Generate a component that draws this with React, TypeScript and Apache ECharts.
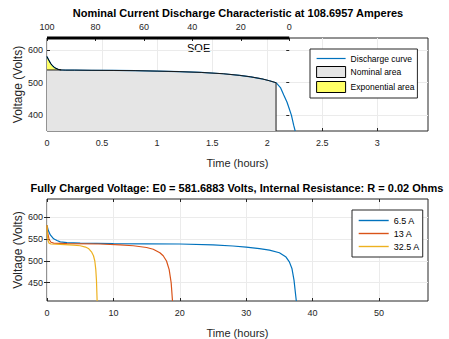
import React, { useEffect, useRef } from "react";
import * as echarts from "echarts";

// ---- Top chart: nominal current discharge characteristic ----
const TOP_TITLE = "Nominal Current Discharge Characteristic at 108.6957 Amperes";
const TOP_HOURS = [0, 0.01, 0.02, 0.035, 0.05, 0.07, 0.1, 0.13, 0.17, 0.25, 0.4, 0.6, 0.8, 1.0, 1.2, 1.4, 1.6, 1.75, 1.85, 1.95, 2.02, 2.08, 2.12, 2.15, 2.18, 2.2, 2.22, 2.24, 2.254];
const TOP_VOLTS = [580, 573, 567, 558, 552, 546, 541, 539, 538.5, 538.5, 538, 537.5, 537, 535.5, 534, 531.5, 527.5, 522.5, 518, 512, 506, 500, 485, 462, 440, 420, 400, 370, 352];
const EXP_END_HOURS = 0.13;
const NOM_END_HOURS = 2.08;
const SOE_FULL_HOURS = 2.2;
const TOP_X_TICKS = [0, 0.5, 1, 1.5, 2, 2.5, 3];
const TOP_Y_TICKS = [400, 500, 600];
const SOE_TICKS = [100, 80, 60, 40, 20, 0];
const TOP_X_MAX = 3.46;
const TOP_Y_MIN = 352;
const TOP_Y_MAX = 637;

// ---- Bottom chart: curves at several currents ----
const BOTTOM_TITLE = "Fully Charged Voltage: E0 = 581.6883 Volts, Internal Resistance: R = 0.02 Ohms";
const H_65 = [0, 0.2, 0.5, 1, 1.5, 2, 3, 5, 10, 15, 20, 25, 28, 30, 32, 33.5, 35, 36, 36.5, 36.9, 37.2, 37.4, 37.55];
const V_65 = [582, 570, 560, 551, 547, 544, 542, 541, 540, 539.5, 539, 537, 534.5, 532, 528.5, 525, 519, 509, 498, 482, 456, 428, 408];
const H_13 = [0, 0.1, 0.3, 0.6, 1, 3, 8, 11, 13, 15, 16, 17, 17.5, 18, 18.4, 18.7, 18.9];
const V_13 = [582, 565, 550, 543, 541, 540, 539, 537, 535, 531, 527, 519, 512, 500, 480, 450, 408];
const H_325 = [0, 0.05, 0.15, 0.3, 0.6, 2, 4, 5, 5.8, 6.3, 6.7, 7, 7.2, 7.35, 7.45, 7.55];
const V_325 = [582, 560, 547, 541, 539, 538, 536.5, 535, 532, 528, 521, 512, 500, 480, 455, 408];
const BOTTOM_NAMES = ["6.5 A", "13 A", "32.5 A"];
const BOTTOM_X_TICKS = [0, 10, 20, 30, 40, 50];
const BOTTOM_Y_TICKS = [450, 500, 550, 600];
const BOTTOM_X_MAX = 57.38;
const BOTTOM_Y_MIN = 408;
const BOTTOM_Y_MAX = 642.5;

const BLUE = "#0072BD";
const ORANGE = "#D95319";
const YELLOW = "#EDB120";
const FONT = "Liberation Sans, Arial, sans-serif";
const AXIS_COLOR = "#262626";
const GRID_LINE = "#ebebeb";

const pairs = (h: number[], v: number[]) => h.map((x, i) => [x, v[i]]);

export default function App() {
  const ref = useRef<HTMLDivElement>(null);
  useEffect(() => {
    if (!ref.current) return;
    const chart = echarts.init(ref.current, undefined, { renderer: "svg" });

    const curve = pairs(TOP_HOURS, TOP_VOLTS);
    const expIdx = TOP_HOURS.indexOf(EXP_END_HOURS);
    const expVolt = TOP_VOLTS[expIdx];
    const expArea = curve.filter((p) => p[0] <= EXP_END_HOURS);
    const nomArea = [[0, expVolt], ...curve.filter((p) => p[0] >= EXP_END_HOURS && p[0] <= NOM_END_HOURS), [NOM_END_HOURS, TOP_Y_MIN]];
    const soeAt = (h: number) => 100 * (1 - h / SOE_FULL_HOURS);

    const label = { color: AXIS_COLOR, fontSize: 9, fontFamily: FONT };
    const tick = (vals: number[]) => ({ show: true, inside: true, length: 3, customValues: vals, lineStyle: { color: AXIS_COLOR } });
    const split = { show: true, lineStyle: { color: GRID_LINE, width: 1 } };
    const ticksOnly = (extra: any, vals: number[]) => ({
      type: "value",
      ...extra,
      axisLine: { show: false },
      axisLabel: { show: false, customValues: vals },
      axisTick: tick(vals),
      splitLine: { show: false },
    });
    const lineLegendItem = (name: string) => ({ name, itemStyle: { opacity: 0 } });

    chart.setOption({
      animation: false,
      backgroundColor: "#fff",
      textStyle: { fontFamily: FONT },
      title: [
        { text: TOP_TITLE, left: 238, top: 7, textAlign: "center", padding: 0, textStyle: { fontSize: 11, fontWeight: "bold", color: "#000", fontFamily: FONT } },
        { text: BOTTOM_TITLE, left: 237, top: 182, textAlign: "center", padding: 0, textStyle: { fontSize: 11, fontWeight: "bold", color: "#000", fontFamily: FONT } },
      ],
      grid: [
        { left: 47, right: 21, top: 38, height: 93, show: true, borderColor: AXIS_COLOR, borderWidth: 1, backgroundColor: "#fff" },
        { left: 47, right: 21, top: 199, height: 102, show: true, borderColor: AXIS_COLOR, borderWidth: 1, backgroundColor: "#fff" },
      ],
      xAxis: [
        {
          type: "value", gridIndex: 0, min: 0, max: TOP_X_MAX, position: "bottom",
          axisLine: { show: false },
          axisTick: tick(TOP_X_TICKS),
          axisLabel: { ...label, margin: 7, customValues: TOP_X_TICKS },
          splitLine: split,
          name: "Time (hours)", nameLocation: "middle", nameGap: 26, nameMoveOverlap: false,
          nameTextStyle: { fontSize: 11, color: AXIS_COLOR, fontFamily: FONT },
        },
        {
          type: "value", gridIndex: 0, min: soeAt(TOP_X_MAX), max: 100, inverse: true, position: "top",
          axisLine: { show: false },
          axisTick: tick(SOE_TICKS),
          axisLabel: { ...label, margin: 7, customValues: SOE_TICKS },
          splitLine: { show: false },
        },
        {
          type: "value", gridIndex: 1, min: 0, max: BOTTOM_X_MAX, position: "bottom",
          axisLine: { show: false },
          axisTick: tick(BOTTOM_X_TICKS),
          axisLabel: { ...label, margin: 7, customValues: BOTTOM_X_TICKS },
          splitLine: split,
          name: "Time (hours)", nameLocation: "middle", nameGap: 26, nameMoveOverlap: false,
          nameTextStyle: { fontSize: 11, color: AXIS_COLOR, fontFamily: FONT },
        },
        ticksOnly({ gridIndex: 1, min: 0, max: BOTTOM_X_MAX, position: "top" }, BOTTOM_X_TICKS),
      ],
      yAxis: [
        {
          type: "value", gridIndex: 0, min: TOP_Y_MIN, max: TOP_Y_MAX,
          axisLine: { show: false },
          axisTick: tick(TOP_Y_TICKS),
          axisLabel: { ...label, margin: 4, customValues: TOP_Y_TICKS },
          splitLine: split,
          name: "Voltage (Volts)", nameLocation: "middle", nameGap: 23, nameMoveOverlap: false,
          nameTextStyle: { fontSize: 12, color: AXIS_COLOR, fontFamily: FONT },
        },
        ticksOnly({ gridIndex: 0, min: TOP_Y_MIN, max: TOP_Y_MAX, position: "right" }, TOP_Y_TICKS),
        {
          type: "value", gridIndex: 1, min: BOTTOM_Y_MIN, max: BOTTOM_Y_MAX,
          axisLine: { show: false },
          axisTick: tick(BOTTOM_Y_TICKS),
          axisLabel: { ...label, margin: 4, customValues: BOTTOM_Y_TICKS },
          splitLine: split,
          name: "Voltage (Volts)", nameLocation: "middle", nameGap: 23, nameMoveOverlap: false,
          nameTextStyle: { fontSize: 12, color: AXIS_COLOR, fontFamily: FONT },
        },
        ticksOnly({ gridIndex: 1, min: BOTTOM_Y_MIN, max: BOTTOM_Y_MAX, position: "right" }, BOTTOM_Y_TICKS),
      ],
      legend: [
        {
          orient: "vertical", left: 310, top: 49, padding: [5, 3, 5, 6],
          itemWidth: 29, itemHeight: 11, itemGap: 3,
          borderColor: AXIS_COLOR, borderWidth: 1, backgroundColor: "#fff",
          lineStyle: { width: 1.2 },
          textStyle: { fontSize: 8.5, color: "#000", fontFamily: FONT },
          data: [
            lineLegendItem("Discharge curve"),
            { name: "Nominal area", icon: "rect", itemStyle: { color: "#e5e5e5", borderColor: "#000", borderWidth: 1 } },
            { name: "Exponential area", icon: "rect", itemStyle: { color: "#ffff66", borderColor: "#000", borderWidth: 1 } },
          ],
        },
        {
          orient: "vertical", left: 352, top: 210, padding: [6, 3, 6, 6],
          itemWidth: 30, itemHeight: 10, itemGap: 4,
          borderColor: AXIS_COLOR, borderWidth: 1, backgroundColor: "#fff",
          lineStyle: { width: 1.4 },
          textStyle: { fontSize: 9, color: "#000", fontFamily: FONT },
          data: BOTTOM_NAMES.map(lineLegendItem),
        },
      ],
      graphic: [
        { type: "text", left: 187, top: 42, style: { text: "SOE", fontSize: 11, fill: "#000", fontFamily: FONT } },
      ],
      series: [
        {
          name: "Discharge curve", type: "line", xAxisIndex: 0, yAxisIndex: 0, data: curve,
          symbol: "none", lineStyle: { color: BLUE, width: 1.2 }, itemStyle: { color: BLUE },
        },
        {
          name: "Exponential area", type: "line", xAxisIndex: 0, yAxisIndex: 0, data: expArea,
          symbol: "none", lineStyle: { color: "#000", width: 1 }, itemStyle: { color: "#ffff66" },
          areaStyle: { color: "#ffff66", opacity: 1, origin: "start" },
        },
        {
          name: "Nominal area", type: "line", xAxisIndex: 0, yAxisIndex: 0, data: nomArea,
          symbol: "none", lineStyle: { color: "#1a1a1a", width: 1 }, itemStyle: { color: "#e5e5e5" },
          areaStyle: { color: "#e5e5e5", opacity: 1, origin: "start" },
        },
        {
          name: "SOE axis", type: "line", xAxisIndex: 1, yAxisIndex: 0, clip: false, silent: true,
          data: [[SOE_TICKS[0], TOP_Y_MAX], [SOE_TICKS[SOE_TICKS.length - 1], TOP_Y_MAX]],
          symbol: "none", lineStyle: { color: "#000", width: 3 },
        },
        {
          name: BOTTOM_NAMES[0], type: "line", xAxisIndex: 2, yAxisIndex: 2, data: pairs(H_65, V_65),
          symbol: "none", lineStyle: { color: BLUE, width: 1.2 }, itemStyle: { color: BLUE },
        },
        {
          name: BOTTOM_NAMES[1], type: "line", xAxisIndex: 2, yAxisIndex: 2, data: pairs(H_13, V_13),
          symbol: "none", lineStyle: { color: ORANGE, width: 1.2 }, itemStyle: { color: ORANGE },
        },
        {
          name: BOTTOM_NAMES[2], type: "line", xAxisIndex: 2, yAxisIndex: 2, data: pairs(H_325, V_325),
          symbol: "none", lineStyle: { color: YELLOW, width: 1.2 }, itemStyle: { color: YELLOW },
        },
      ],
    });
    return () => chart.dispose();
  }, []);
  return <div ref={ref} style={{ width: 449, height: 339, position: "absolute", left: 0, top: 0 }} />;
}
